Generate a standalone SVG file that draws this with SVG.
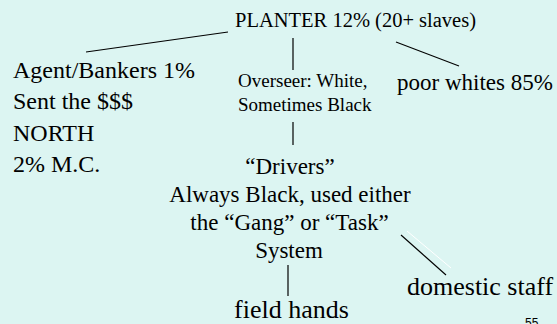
<svg xmlns="http://www.w3.org/2000/svg" width="557" height="324" viewBox="0 0 557 324">
<style>
.c line{stroke:#000;stroke-width:1.2}
</style>
<rect width="557" height="324" fill="#DCF5F2"/>
<g class="c" id="connectors">
<line x1="86" y1="52" x2="228" y2="32"/>
<line x1="293" y1="38" x2="293" y2="70"/>
<line x1="396" y1="42" x2="459" y2="66"/>
<line x1="293" y1="122" x2="293" y2="145"/>
<line x1="401" y1="235" x2="446" y2="275"/>
<line x1="407" y1="231" x2="451" y2="268" style="stroke:#fff;stroke-width:1"/>
<line x1="288" y1="265" x2="288" y2="296"/>
</g>
<g font-family="Liberation Serif, Times New Roman, serif" fill="#000">
<g id="planter"><text x="235" y="27" font-size="20.5">PLANTER 12% (20+ slaves)</text></g>
<g id="agent" font-size="24">
<text x="13" y="78">Agent/Bankers 1%</text>
<text x="13" y="109">Sent the $$$</text>
<text x="13" y="141">NORTH</text>
<text x="13" y="172">2% M.C.</text>
</g>
<g id="overseer" font-size="19">
<text x="238" y="87">Overseer: White,</text>
<text x="238" y="111">Sometimes Black</text>
</g>
<g id="poorwhites"><text x="397" y="90" font-size="23">poor whites 85%</text></g>
<g id="drivers" font-size="23" text-anchor="middle">
<text x="290" y="174">“Drivers”</text>
<text x="290" y="202">Always Black, used either</text>
<text x="289.5" y="230">the “Gang” or “Task”</text>
<text x="289" y="258">System</text>
</g>
<g id="domestic"><text x="407" y="295" font-size="26">domestic staff</text></g>
<g id="fieldhands"><text x="291.5" y="318" font-size="26" text-anchor="middle">field hands</text></g>
</g>
<text x="525" y="327" font-size="12" font-family="Liberation Sans, Arial, sans-serif" fill="#000">55</text>
</svg>
